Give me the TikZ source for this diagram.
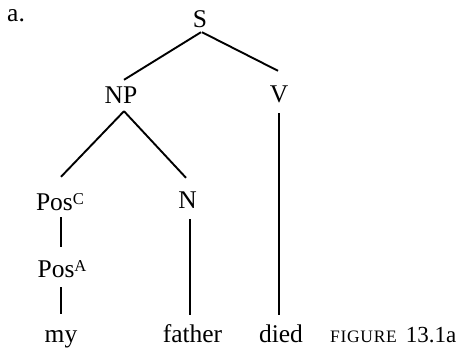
\documentclass[tikz,border=0pt]{standalone}
\usepackage{fontspec}
\setmainfont{Liberation Serif}
\newfontfamily\capsfont[LetterSpace=4]{Liberation Serif}
\usetikzlibrary{calc}
\newcommand{\supcap}[1]{\raisebox{5.9pt}{\fontsize{16.6}{16.6}\selectfont #1}}
\begin{document}
\begin{tikzpicture}[x=1pt,y=-1pt,
  lab/.style={anchor=base, inner sep=0pt, text height=17pt, text depth=0pt, font=\fontsize{25.5}{30}\selectfont},
  edge/.style={line width=1.9pt}]
\useasboundingbox (0,0) rectangle (461,349);
% labels
\node[lab, anchor=base west] (a) at (7,21) {a.};
\node[lab] (S) at (200,27) {S};
\node[lab] (NP) at (121,103) {NP};
\node[lab] (V) at (279,102) {V};
\node[lab] (PosC) at (60,210) {Pos\supcap{C}};
\node[lab] (N) at (187.5,208) {N};
\node[lab] (PosA) at (62,277) {Pos\supcap{A}};
\node[lab] (my) at (61,342) {my};
\node[lab] (father) at (192.5,342) {father};
\node[lab] (died) at (281,342) {died};
\node[lab, anchor=base west] (cap) at (330,342) {{\capsfont\fontsize{17.5}{17.5}\selectfont FIGURE}\hspace{9pt}{\fontsize{23}{23}\selectfont 13.1a}};
% connectors
\draw[edge] ($(S.south)+(1,5)$) -- ($(NP.north)+(3,-6)$);
\draw[edge] ($(S.south)+(2,5)$) -- ($(V.north)+(-1,-14)$);
\draw[edge] ($(NP.south)+(3,8)$) -- ($(PosC.north)+(1,-16)$);
\draw[edge] ($(NP.south)+(3,8)$) -- ($(N.north)+(-1.5,-13)$);
\draw[edge] ($(PosC.south)+(1,7)$) -- ($(PosA.north)+(-1,-13)$);
\draw[edge] ($(PosA.south)+(-1,10)$) -- ($(my.north)+(0,-11)$);
\draw[edge] ($(N.south)+(2.5,11)$) -- ($(father.north)+(-2.5,-10)$);
\draw[edge] ($(V.south)+(0,11)$) -- ($(died.north)+(-2,-10)$);
\end{tikzpicture}
\end{document}
